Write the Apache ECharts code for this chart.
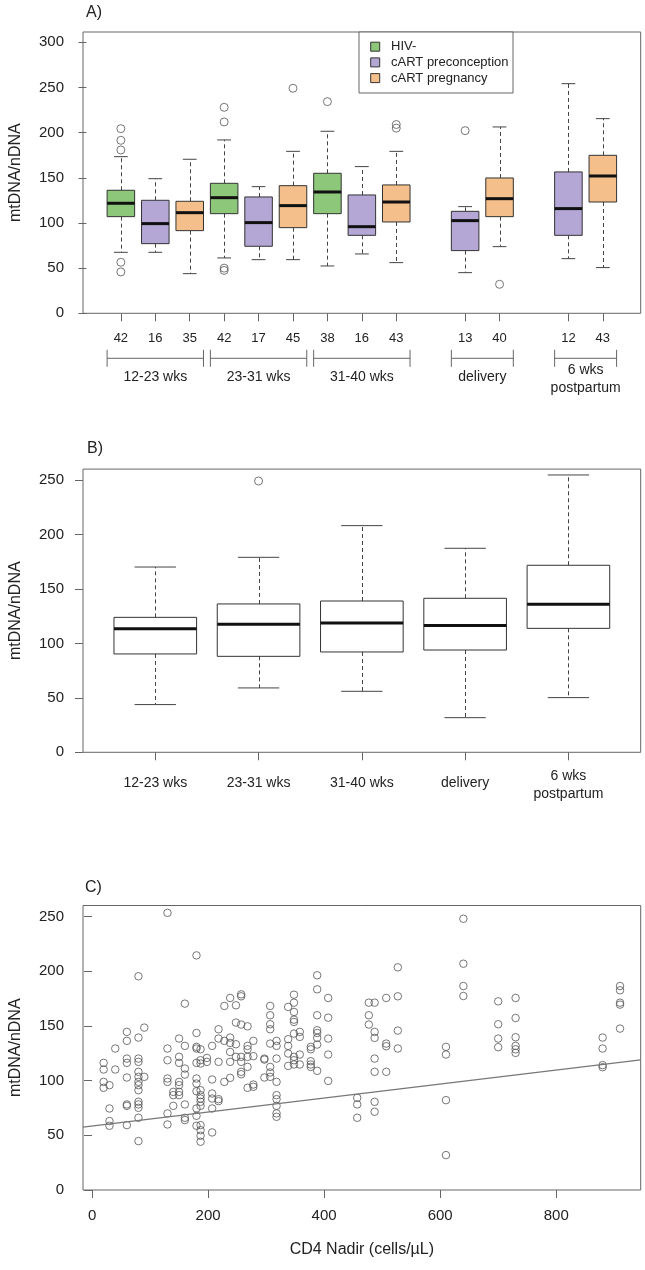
<!DOCTYPE html>
<html><head><meta charset="utf-8">
<script src="https://cdn.jsdelivr.net/npm/echarts@6/dist/echarts.min.js"></script>
<style>html,body{margin:0;padding:0;background:#fff}#main{width:645px;height:1270px}</style>
</head><body><div id="main"></div>
<script>
const FONT = "'Liberation Sans', Arial, Helvetica, sans-serif";
const TXT = '#222';
const FRAME = '#666';

// ---------- shared labels ----------
const timepoints = ['12-23 wks', '23-31 wks', '31-40 wks', 'delivery', '6 wks\npostpartum'];
const groups = ['HIV-', 'cART preconception', 'cART pregnancy'];
const groupColors = ['#8DC87A', '#B4A7D6', '#F4BF8A'];

// ---------- panel A: boxes by group and time point ----------
const boxSlotA  = [1, 2, 3, 4, 5, 6, 7, 8, 9, 11, 12, 14, 15];
const boxTimeA  = [0, 0, 0, 1, 1, 1, 2, 2, 2, 3, 3, 4, 4];
const boxGroupA = [0, 1, 2, 0, 1, 2, 0, 1, 2, 1, 2, 1, 2];
const countsA   = [42, 16, 35, 42, 17, 45, 38, 16, 43, 13, 40, 12, 43];
const whiskerLowA  = [67.5, 67.5, 43.9, 61.3, 59.4, 59.4, 52.4, 65.7, 56.1, 45.0, 73.8, 60.5, 50.6];
const q1A          = [107.0, 77.1, 91.5, 110.3, 74.2, 94.8, 110.3, 86.3, 101.1, 69.4, 107.0, 86.3, 123.2];
const medianA      = [121.8, 99.3, 111.4, 128.0, 100.4, 119.2, 134.3, 95.9, 123.2, 102.6, 126.9, 115.9, 152.0];
const q3A          = [136.2, 125.1, 124.0, 143.9, 128.8, 141.3, 155.0, 131.0, 142.1, 112.9, 149.8, 156.5, 174.9];
const whiskerHighA = [173.4, 149.0, 170.5, 191.9, 140.2, 179.3, 201.5, 162.4, 179.3, 118.1, 206.3, 254.2, 215.5];
// [box index, value]
const outliersA = [[0, 204.4], [0, 191.5], [0, 180.8], [0, 56.5], [0, 45.8],
                   [3, 228.0], [3, 211.8], [3, 50.0], [3, 47.5],
                   [5, 249.1], [6, 234.3], [8, 209.0], [8, 205.0], [9, 202.2], [10, 32.1]];
const yTicksA = [0, 50, 100, 150, 200, 250, 300];

// ---------- panel B: boxes by time point ----------
const boxSlotB     = [1, 2, 3, 4, 5];
const whiskerLowB  = [43.8, 59.1, 56.0, 31.8, 50.2];
const q1B          = [90.3, 88.1, 92.1, 93.9, 113.8];
const medianB      = [113.5, 117.5, 118.7, 116.3, 135.9];
const q3B          = [123.9, 136.2, 138.9, 141.4, 171.7];
const whiskerHighB = [170.1, 179.0, 208.1, 187.3, 254.6];
const outliersB = [[1, 249.1]];
const yTicksBC = [0, 50, 100, 150, 200, 250];

// ---------- panel C: CD4 nadir vs mtDNA/nDNA ----------
const cd4Columns = [20, 30, 40, 60, 80, 90, 130, 140, 150, 160, 180, 187, 198, 207, 218, 228, 238, 248, 257, 268,
                    278, 297, 307, 318, 338, 348, 358, 377, 388, 407, 457, 477, 487, 507, 527, 610, 640, 700, 730, 880, 910];
const mtdnaByColumn = [
  [116.2, 110.1, 98.8, 93.4],
  [95.8, 74.5, 63.0, 58.7],
  [129.3, 110.1],
  [144.5, 136.3, 120.1, 116.2, 102.8, 78.2, 76.9, 59.3],
  [195.3, 139.3, 120.1, 117.1, 108.0, 103.4, 98.8, 95.8, 91.2, 80.6, 78.2, 75.1, 66.0, 44.7],
  [148.4, 103.4],
  [253.3, 129.3, 118.6, 101.9, 98.8, 70.0, 59.9],
  [89.7, 86.7, 76.9],
  [138.4, 121.7, 116.2, 98.8, 95.8, 89.7, 86.7],
  [170.3, 131.7, 111.0, 105.5, 78.2, 66.0, 63.9],
  [214.4, 143.5, 130.8, 129.3, 116.2, 101.9, 97.3, 90.3, 74.5, 67.8, 58.7],
  [128.6, 118.6, 115.6, 91.2, 86.7, 83.6, 80.6, 76.9, 59.3, 54.7, 49.6, 44.1],
  [120.7, 117.1],
  [131.7, 101.0, 88.2, 83.6, 74.5, 52.6],
  [146.9, 138.4, 117.1, 83.0, 81.2],
  [168.2, 136.3, 98.8],
  [175.5, 139.3, 134.4, 126.2, 117.1, 102.5],
  [168.8, 153.0, 133.2, 121.7],
  [178.8, 177.0, 151.2, 121.7, 117.1, 108.0, 105.8],
  [149.6, 131.7, 128.6, 121.7, 112.5, 93.4],
  [136.3, 122.3, 96.4, 94.3],
  [120.1, 119.2, 102.8],
  [168.2, 159.7, 151.5, 146.9, 133.8, 112.5, 107.4, 103.4],
  [136.3, 131.7, 120.1, 98.8, 86.7, 83.0, 76.9, 70.0, 66.9],
  [167.3, 137.8, 131.7, 124.7, 113.4],
  [178.5, 171.2, 162.7, 155.7, 153.6, 142.9, 121.7, 118.6, 114.7],
  [144.5, 139.9, 123.8, 114.7],
  [130.8, 128.6, 117.7, 114.7, 112.5],
  [196.2, 183.4, 159.7, 146.0, 143.5, 139.0, 132.9, 108.9],
  [175.5, 157.5, 138.4, 123.8, 99.7],
  [84.2, 78.2, 66.0],
  [171.2, 159.7, 151.2],
  [171.2, 144.5, 139.0, 120.1, 108.0, 80.6, 71.5],
  [175.5, 133.8, 131.4, 108.0],
  [203.5, 177.0, 145.7, 129.3],
  [130.8, 123.8, 82.1, 31.9],
  [247.9, 206.8, 186.4, 177.3],
  [172.4, 151.5, 138.4, 130.5],
  [175.5, 157.2, 139.6, 131.7, 128.6, 125.3],
  [139.3, 129.3, 114.1, 112.2],
  [186.4, 182.5, 171.2, 169.4, 147.5]
];
const fitIntercept = 58.5;
const fitSlope = 0.0638;
const xTicksC = [0, 200, 400, 600, 800];
const xRangeC = [-15.6, 945.6];

// ---------- build series data ----------
const boxDataA = boxSlotA.map((s, i) => [s, whiskerLowA[i], q1A[i], medianA[i], q3A[i], whiskerHighA[i], boxGroupA[i]]);
const outlierDataA = outliersA.map(o => [boxSlotA[o[0]], o[1]]);
const boxDataB = boxSlotB.map((s, i) => [s, whiskerLowB[i], q1B[i], medianB[i], q3B[i], whiskerHighB[i], -1]);
const outlierDataB = outliersB.map(o => [boxSlotB[o[0]], o[1]]);
const labelDataB = boxSlotB.map((s, i) => [s, i]);
const scatterC = [];
cd4Columns.forEach((x, i) => mtdnaByColumn[i].forEach(y => scatterC.push([x, y])));
const fitData = xRangeC.map(x => [x, fitIntercept + fitSlope * x]);
const bracketData = timepoints.map((t, ti) => {
  const slots = boxSlotA.filter((s, i) => boxTimeA[i] === ti);
  return [Math.min(...slots), Math.max(...slots), ti];
});

function boxRenderer(halfW) {
  return function (params, api) {
    const x = api.value(0);
    const lo = api.coord([x, api.value(1)]);
    const q1 = api.coord([x, api.value(2)]);
    const md = api.coord([x, api.value(3)]);
    const q3 = api.coord([x, api.value(4)]);
    const hi = api.coord([x, api.value(5)]);
    const xl = api.coord([x - halfW, 0])[0];
    const xr = api.coord([x + halfW, 0])[0];
    const sl = api.coord([x - halfW / 2, 0])[0];
    const sr = api.coord([x + halfW / 2, 0])[0];
    const cx = Math.round(lo[0]) + 0.5;
    const g = api.value(6);
    const fill = g >= 0 ? groupColors[g] : '#ffffff';
    const dash = { stroke: '#444', lineWidth: 1, lineDash: [4, 3] };
    const solid = { stroke: '#444', lineWidth: 1 };
    return {
      type: 'group',
      children: [
        { type: 'line', shape: { x1: cx, y1: q3[1], x2: cx, y2: hi[1] }, style: dash },
        { type: 'line', shape: { x1: cx, y1: q1[1], x2: cx, y2: lo[1] }, style: dash },
        { type: 'line', shape: { x1: sl, y1: hi[1], x2: sr, y2: hi[1] }, style: solid },
        { type: 'line', shape: { x1: sl, y1: lo[1], x2: sr, y2: lo[1] }, style: solid },
        { type: 'rect', shape: { x: xl, y: q3[1], width: xr - xl, height: q1[1] - q3[1] },
          style: { fill: fill, stroke: '#333', lineWidth: 1 } },
        { type: 'line', shape: { x1: xl, y1: md[1], x2: xr, y2: md[1] }, style: { stroke: '#111', lineWidth: 3 } }
      ]
    };
  };
}

function labelText(text, x, y, size) {
  const twoLine = text.indexOf('\n') >= 0;
  return { type: 'text', x: x, y: y + (twoLine ? 2.5 : 0),
    style: { text: text, fill: TXT, font: size + 'px ' + FONT, align: 'center', verticalAlign: 'middle', lineHeight: 17.5 } };
}

function bracketRenderer(params, api) {
  const a = api.coord([api.value(0) - 0.4, 0]);
  const b = api.coord([api.value(1) + 0.4, 0]);
  const y0 = a[1];
  const yl = y0 + 45;
  const st = { stroke: FRAME, lineWidth: 1 };
  return {
    type: 'group',
    children: [
      { type: 'line', shape: { x1: a[0], y1: yl, x2: b[0], y2: yl }, style: st },
      { type: 'line', shape: { x1: a[0], y1: y0 + 36.5, x2: a[0], y2: y0 + 53.5 }, style: st },
      { type: 'line', shape: { x1: b[0], y1: y0 + 36.5, x2: b[0], y2: y0 + 53.5 }, style: st },
      labelText(timepoints[api.value(2)], (a[0] + b[0]) / 2, y0 + 63.5, 14)
    ]
  };
}

function labelRendererB(params, api) {
  const p = api.coord([api.value(0), 0]);
  return labelText(timepoints[api.value(1)], p[0], p[1] + 30.5, 14);
}

const circleStyle = { color: 'rgba(0,0,0,0)', borderColor: '#555', borderWidth: 1 };

function yAxisCfg(gridIndex, max, ticks) {
  return {
    type: 'value', gridIndex: gridIndex, min: 0, max: max,
    name: 'mtDNA/nDNA', nameLocation: 'middle', nameGap: 59,
    nameTextStyle: { fontFamily: FONT, fontSize: 16, color: TXT },
    axisLine: { show: false },
    axisTick: { show: true, length: 8, customValues: ticks, lineStyle: { color: FRAME } },
    axisLabel: { show: true, customValues: ticks, margin: 19, fontFamily: FONT, fontSize: 15, color: TXT },
    splitLine: { show: false }
  };
}

const gridBase = { left: 77.7, width: 563, show: true, borderColor: FRAME, borderWidth: 1, backgroundColor: 'transparent' };

const legendGraphic = [
  { type: 'rect', shape: { x: 359, y: 32, width: 154, height: 61 }, style: { fill: '#fff', stroke: FRAME, lineWidth: 1 }, z: 100 }
];
groups.forEach((g, i) => {
  const cy = 46.7 + i * 15.7;
  legendGraphic.push({ type: 'rect', shape: { x: 370.7, y: cy - 4.5, width: 9, height: 9 },
    style: { fill: groupColors[i], stroke: '#333', lineWidth: 1 }, z: 101 });
  legendGraphic.push({ type: 'text', x: 391, y: cy,
    style: { text: g, fill: TXT, font: '13px ' + FONT, verticalAlign: 'middle', align: 'left' }, z: 101 });
});

const panelLetters = [['A)', 86, 12.5], ['B)', 87, 448.5], ['C)', 85, 888]].map(p => ({
  type: 'text', x: p[1], y: p[2], style: { text: p[0], fill: TXT, font: '16px ' + FONT, verticalAlign: 'middle' }
}));

const option = {
  animation: false,
  backgroundColor: '#fff',
  textStyle: { fontFamily: FONT },
  grid: [
    Object.assign({ top: 32, height: 281.3 }, gridBase),
    Object.assign({ top: 469.1, height: 283.2 }, gridBase),
    Object.assign({ top: 905.5, height: 284.5 }, gridBase)
  ],
  xAxis: [
    {
      type: 'value', gridIndex: 0, min: -0.1, max: 16.1,
      axisLine: { show: false }, splitLine: { show: false },
      axisTick: { show: true, length: 8, customValues: boxSlotA, lineStyle: { color: FRAME } },
      axisLabel: { show: true, customValues: boxSlotA, margin: 19, fontFamily: FONT, fontSize: 13, color: TXT,
                   formatter: v => String(countsA[boxSlotA.indexOf(v)]) }
    },
    {
      type: 'value', gridIndex: 1, min: 0.3, max: 5.7,
      axisLine: { show: false }, splitLine: { show: false },
      axisTick: { show: true, length: 8, customValues: boxSlotB, lineStyle: { color: FRAME } },
      axisLabel: { show: false }
    },
    {
      type: 'value', gridIndex: 2, min: xRangeC[0], max: xRangeC[1],
      name: 'CD4 Nadir (cells/\u00b5L)', nameLocation: 'middle', nameGap: 52,
      nameTextStyle: { fontFamily: FONT, fontSize: 16, color: TXT },
      axisLine: { show: false }, splitLine: { show: false },
      axisTick: { show: true, length: 8, customValues: xTicksC, lineStyle: { color: FRAME } },
      axisLabel: { show: true, customValues: xTicksC, margin: 18, fontFamily: FONT, fontSize: 15, color: TXT }
    }
  ],
  yAxis: [yAxisCfg(0, 311.4, yTicksA), yAxisCfg(1, 260, yTicksBC), yAxisCfg(2, 260, yTicksBC)],
  series: [
    { type: 'custom', xAxisIndex: 0, yAxisIndex: 0, renderItem: boxRenderer(0.4), data: boxDataA,
      encode: { x: 0, y: [1, 5] }, silent: true },
    { type: 'scatter', xAxisIndex: 0, yAxisIndex: 0, data: outlierDataA, symbol: 'circle', symbolSize: 8,
      itemStyle: circleStyle, silent: true },
    { type: 'custom', xAxisIndex: 0, yAxisIndex: 0, renderItem: bracketRenderer, data: bracketData,
      encode: { x: [0, 1] }, silent: true, clip: false },
    { type: 'custom', xAxisIndex: 1, yAxisIndex: 1, renderItem: boxRenderer(0.4), data: boxDataB,
      encode: { x: 0, y: [1, 5] }, silent: true },
    { type: 'scatter', xAxisIndex: 1, yAxisIndex: 1, data: outlierDataB, symbol: 'circle', symbolSize: 8,
      itemStyle: circleStyle, silent: true },
    { type: 'custom', xAxisIndex: 1, yAxisIndex: 1, renderItem: labelRendererB, data: labelDataB,
      encode: { x: 0 }, silent: true, clip: false },
    { type: 'scatter', xAxisIndex: 2, yAxisIndex: 2, data: scatterC, symbol: 'circle', symbolSize: 7.5,
      itemStyle: circleStyle, silent: true },
    { type: 'line', xAxisIndex: 2, yAxisIndex: 2, data: fitData, showSymbol: false, symbol: 'none',
      lineStyle: { color: '#777', width: 1.3 }, silent: true, clip: true }
  ],
  graphic: legendGraphic.concat(panelLetters)
};

const chart = echarts.init(document.getElementById('main'), null, { renderer: 'canvas' });
chart.setOption(option);
</script></body></html>
